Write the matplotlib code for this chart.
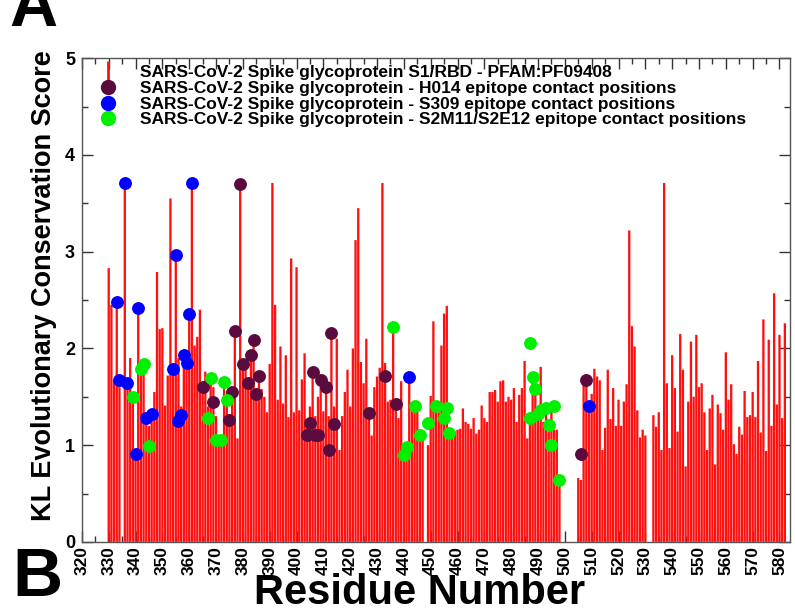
import numpy as np
import matplotlib
matplotlib.use('Agg')
import matplotlib.pyplot as plt
from matplotlib.lines import Line2D
from matplotlib.ticker import MultipleLocator

# KL score per residue, 330..582 (0 = no value)
residues = list(range(330, 583))
kl_score = [
    2.83, 2.45, 1.66, 2.48, 1.67, 0.00, 3.71, 1.64, 1.90, 1.55,   # 330-339
    0.91, 2.42, 1.80, 1.84, 1.30, 1.20, 1.35, 1.55, 2.79, 2.20,   # 340-349
    2.21, 1.41, 1.72, 3.55, 1.80, 2.97, 1.90, 1.40, 1.95, 1.88,   # 350-359
    2.36, 3.71, 2.03, 2.12, 2.40, 1.60, 1.76, 1.40, 1.70, 1.60,   # 360-369
    1.30, 1.05, 1.05, 1.65, 1.50, 1.26, 1.55, 2.18, 1.07, 3.71,   # 370-379
    1.84, 1.78, 1.64, 1.93, 2.09, 1.53, 1.72, 1.58, 1.50, 1.34,   # 380-389
    1.84, 3.71, 2.45, 1.47, 2.02, 1.43, 1.93, 1.29, 2.93, 1.34,   # 390-399
    2.84, 1.36, 1.68, 1.95, 1.25, 1.40, 1.76, 1.30, 1.50, 1.67,   # 400-409
    1.35, 1.60, 1.30, 2.16, 1.40, 2.10, 0.95, 1.30, 1.55, 1.78,   # 410-419
    1.40, 2.00, 3.12, 3.45, 1.86, 1.64, 2.10, 1.33, 1.10, 1.60,   # 420-429
    1.71, 1.80, 3.71, 1.85, 1.45, 1.47, 2.22, 1.43, 1.28, 1.66,   # 430-439
    0.95, 0.95, 1.70, 1.43, 1.40, 1.38, 1.10, 1.10, 0.00, 1.00,   # 440-449
    1.51, 2.28, 1.45, 1.34, 2.03, 2.36, 2.44, 1.10, 1.10, 1.14,   # 450-459
    1.16, 1.17, 1.38, 1.24, 1.22, 1.17, 1.28, 1.12, 1.16, 1.41,   # 460-469
    1.28, 1.24, 1.55, 1.55, 1.57, 1.45, 1.66, 1.67, 1.45, 1.50,   # 470-479
    1.47, 1.59, 1.24, 1.52, 1.59, 1.87, 1.07, 1.31, 1.70, 1.59,   # 480-489
    1.36, 1.81, 1.24, 1.36, 1.14, 1.36, 1.16, 1.16, 0.64, 0.00,   # 490-499
    0.00, 0.00, 0.00, 0.00, 0.00, 0.66, 0.64, 1.67, 1.67, 1.43,   # 500-509
    1.53, 1.79, 1.71, 1.67, 0.95, 1.18, 1.78, 1.27, 1.59, 1.20,   # 510-519
    1.47, 1.20, 1.45, 1.63, 3.22, 2.23, 2.02, 1.36, 1.08, 1.16,   # 520-529
    1.10, 0.00, 0.00, 1.31, 1.19, 1.34, 0.95, 3.71, 1.64, 0.97,   # 530-539
    1.93, 1.59, 1.14, 2.15, 1.78, 0.78, 1.45, 2.07, 1.50, 2.14,   # 540-549
    1.60, 1.64, 1.34, 0.95, 1.38, 1.52, 0.80, 1.42, 1.33, 1.16,   # 550-559
    1.96, 1.47, 1.63, 1.01, 0.91, 1.19, 1.11, 1.56, 1.29, 1.31,   # 560-569
    1.55, 1.29, 1.87, 1.13, 2.30, 0.94, 2.09, 1.20, 2.57, 1.42,   # 570-579
    2.14, 1.28, 2.26,                                             # 580-582
]

# epitope contact positions
h014_res = [365, 369, 375, 376, 377, 379, 380, 382, 383, 384, 385, 386,
            404, 405, 406, 407, 408, 409, 411, 412, 413, 414, 427, 433, 437, 506, 508]
h014_val = [1.60, 1.45, 1.26, 1.55, 2.18, 3.70, 1.84, 1.64, 1.93, 2.09, 1.53, 1.72,
            1.10, 1.23, 1.76, 1.10, 1.10, 1.67, 1.60, 0.95, 2.16, 1.22, 1.33, 1.71, 1.43, 0.91, 1.67]

s309_res = [333, 334, 336, 337, 340, 341, 344, 346, 354, 355, 356, 357, 358, 359, 360, 361, 442, 509]
s309_val = [2.48, 1.67, 3.71, 1.64, 0.91, 2.42, 1.28, 1.32, 1.79, 2.97, 1.25, 1.31,
            1.93, 1.85, 2.36, 3.71, 1.70, 1.41]

s2m11_res = [339, 342, 343, 345, 367, 368, 370, 372, 373, 374, 436, 440, 441, 444, 446,
             449, 452, 455, 456, 457, 487, 487, 488, 489, 490, 491, 493, 494, 495, 496, 498]
s2m11_val = [1.50, 1.79, 1.84, 0.99, 1.28, 1.69, 1.05, 1.05, 1.65, 1.47, 2.22, 0.90, 0.98, 1.41, 1.10,
             1.23, 1.40, 1.28, 1.38, 1.13, 2.06, 1.28, 1.70, 1.58, 1.32, 1.36, 1.38, 1.21, 1.00, 1.41, 0.64]

labels = ['SARS-CoV-2 Spike glycoprotein S1/RBD - PFAM:PF09408',
          'SARS-CoV-2 Spike glycoprotein - H014 epitope contact positions',
          'SARS-CoV-2 Spike glycoprotein - S309 epitope contact positions',
          'SARS-CoV-2 Spike glycoprotein - S2M11/S2E12 epitope contact positions']

plt.rcParams['font.family'] = ['Liberation Sans', 'DejaVu Sans']
plt.rcParams['font.weight'] = 'bold'

fig = plt.figure(figsize=(7.95, 6.13), dpi=100)
ax = fig.add_axes([0.103, 0.116, 0.891, 0.789])

res = np.array(residues)
kl = np.array(kl_score)
keep = kl > 0
ax.bar(res[keep], kl[keep], width=0.86, color='#ff1010', edgecolor='none',
       snap=False, zorder=2)

ax.scatter(h014_res, h014_val, s=68, color='#5a0a3c', zorder=3)
ax.scatter(s309_res, s309_val, s=68, color='#0000ff', zorder=3)
ax.scatter(s2m11_res, s2m11_val, s=68, color='#00f000', zorder=3)

ax.set_xlim(320, 584)
ax.set_ylim(0, 5)
ax.xaxis.set_major_locator(MultipleLocator(10))
ax.xaxis.set_minor_locator(MultipleLocator(5))
ax.yaxis.set_major_locator(MultipleLocator(1))
ax.yaxis.set_minor_locator(MultipleLocator(0.5))
ax.tick_params(which='both', direction='in', top=True, right=True, color='#333333', zorder=5)
ax.tick_params(which='major', length=8, width=1)
ax.tick_params(which='minor', length=4, width=1)
ax.tick_params(axis='x', labelsize=12.5, rotation=90, pad=3)
ax.tick_params(axis='y', labelsize=13, pad=5)
for sp in ax.spines.values():
    sp.set_color('#555555')
    sp.set_linewidth(1)

ax.set_ylabel('KL Evolutionary Conservation Score', fontsize=19.5, fontweight='bold')
ax.yaxis.set_label_coords(-0.035, 0.53)
ax.set_xlabel('Residue Number', fontsize=30, fontweight='bold', va='baseline')
ax.xaxis.set_label_coords(0.477, -0.128)

handles = [Line2D([], [], marker='|', color='#ff1010', linestyle='none', markersize=15, mew=2),
           Line2D([], [], marker='o', color='#5a0a3c', linestyle='none', markersize=10),
           Line2D([], [], marker='o', color='#0000ff', linestyle='none', markersize=10),
           Line2D([], [], marker='o', color='#00f000', linestyle='none', markersize=10)]
ax.legend(handles, labels, loc='upper left', bbox_to_anchor=(0.013, 1.0), frameon=False,
          prop={'size': 12.5, 'weight': 'bold'}, handlelength=1.2, handletextpad=1.2,
          labelspacing=0.03, borderpad=0.4, borderaxespad=0.0)

fig.text(0.012, 0.985, 'A', fontsize=48, fontweight='bold', va='center')
fig.text(0.016, 0.057, 'B', fontsize=50, fontweight='bold', va='center')

fig.savefig('out.png', dpi=100)
